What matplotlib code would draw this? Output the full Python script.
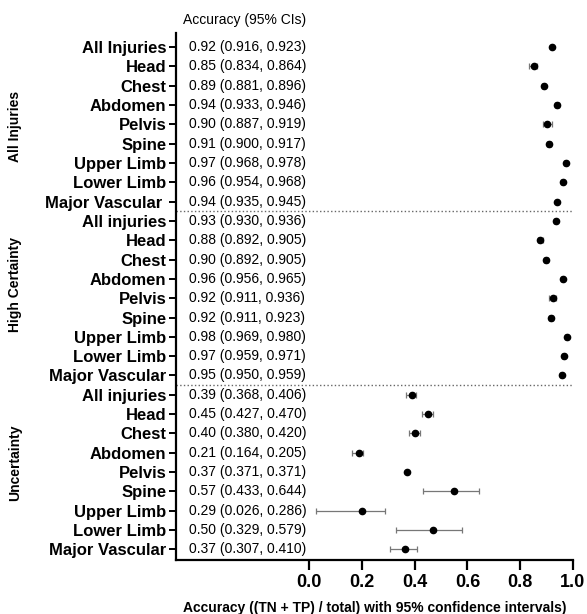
import matplotlib.pyplot as plt

plt.rcParams["font.family"] = ["Liberation Sans", "DejaVu Sans"]

groups = ["All Injuries", "High Certainty", "Uncertainty"]

labels_all = ["All Injuries", "Head", "Chest", "Abdomen", "Pelvis", "Spine",
              "Upper Limb", "Lower Limb", "Major Vascular "]
labels_high = ["All injuries", "Head", "Chest", "Abdomen", "Pelvis", "Spine",
               "Upper Limb", "Lower Limb", "Major Vascular"]
labels_unc = labels_high

text_all = ["0.92 (0.916, 0.923)", "0.85 (0.834, 0.864)", "0.89 (0.881, 0.896)",
            "0.94 (0.933, 0.946)", "0.90 (0.887, 0.919)", "0.91 (0.900, 0.917)",
            "0.97 (0.968, 0.978)", "0.96 (0.954, 0.968)", "0.94 (0.935, 0.945)"]
text_high = ["0.93 (0.930, 0.936)", "0.88 (0.892, 0.905)", "0.90 (0.892, 0.905)",
             "0.96 (0.956, 0.965)", "0.92 (0.911, 0.936)", "0.92 (0.911, 0.923)",
             "0.98 (0.969, 0.980)", "0.97 (0.959, 0.971)", "0.95 (0.950, 0.959)"]
text_unc = ["0.39 (0.368, 0.406)", "0.45 (0.427, 0.470)", "0.40 (0.380, 0.420)",
            "0.21 (0.164, 0.205)", "0.37 (0.371, 0.371)", "0.57 (0.433, 0.644)",
            "0.29 (0.026, 0.286)", "0.50 (0.329, 0.579)", "0.37 (0.307, 0.410)"]

# plotted points and interval ends
est_all = [0.922, 0.851, 0.890, 0.939, 0.903, 0.910, 0.975, 0.963, 0.940]
lo_all = [0.916, 0.834, 0.881, 0.933, 0.887, 0.900, 0.968, 0.954, 0.935]
hi_all = [0.923, 0.864, 0.896, 0.946, 0.919, 0.917, 0.978, 0.968, 0.945]

est_high = [0.934, 0.876, 0.899, 0.962, 0.925, 0.918, 0.976, 0.966, 0.957]
lo_high = [0.930, 0.866, 0.892, 0.956, 0.911, 0.911, 0.969, 0.959, 0.950]
hi_high = [0.936, 0.886, 0.905, 0.965, 0.936, 0.923, 0.980, 0.971, 0.959]

est_unc = [0.389, 0.450, 0.400, 0.190, 0.371, 0.550, 0.200, 0.468, 0.364]
lo_unc = [0.368, 0.427, 0.380, 0.164, 0.371, 0.433, 0.026, 0.329, 0.307]
hi_unc = [0.406, 0.470, 0.420, 0.205, 0.371, 0.644, 0.286, 0.579, 0.410]

labels = labels_all + labels_high + labels_unc
texts = text_all + text_high + text_unc
est = est_all + est_high + est_unc
lo = lo_all + lo_high + lo_unc
hi = hi_all + hi_high + hi_unc
ypos = list(range(len(labels)))

fig = plt.figure(figsize=(5.87, 6.14), dpi=100)
ax = fig.add_axes([0.300, 0.088, 0.676, 0.858])

xerr = [[e - l for e, l in zip(est, lo)], [h - e for e, h in zip(est, hi)]]
ax.errorbar(est, ypos, xerr=xerr, fmt="none", ecolor="#777777",
            elinewidth=0.9, capsize=2.5, capthick=0.9, clip_on=False)
ax.plot(est, ypos, "o", color="black", markersize=4.5, clip_on=False, zorder=3)

for y, t in zip(ypos, texts):
    ax.text(-0.455, y, t, ha="left", va="center", fontsize=10)
ax.text(-0.48, -1.4, "Accuracy (95% CIs)", ha="left", va="center", fontsize=10)

for sep in [8.5, 17.5]:
    ax.axhline(sep, color="#666666", linestyle=":", linewidth=1)

ax.set_xlim(-0.505, 1.0)
ax.set_ylim(26.55, -0.72)
ax.set_yticks(ypos)
ax.set_yticklabels(labels, fontsize=12, fontweight="bold")
ax.set_xticks([0.0, 0.2, 0.4, 0.6, 0.8, 1.0])
ax.set_xticklabels(["0.0", "0.2", "0.4", "0.6", "0.8", "1.0"], fontsize=13,
                   fontweight="bold")
ax.set_xlabel("Accuracy ((TN + TP) / total) with 95% confidence intervals)",
              fontsize=10, fontweight="bold", labelpad=7)

ax.spines["top"].set_visible(False)
ax.spines["right"].set_visible(False)
ax.spines["left"].set_linewidth(1.6)
ax.spines["bottom"].set_linewidth(1.6)
ax.tick_params(axis="y", length=5, width=1.4, pad=2)
ax.tick_params(axis="x", length=7, width=1.6, pad=3)

# group labels at the far left
for name, ypx in zip(groups, [126, 285, 463]):
    fig.text(15 / 587, 1 - ypx / 614, name, rotation=90, ha="center",
             va="center", fontsize=10, fontweight="bold")

fig.savefig("out.png", dpi=100)
